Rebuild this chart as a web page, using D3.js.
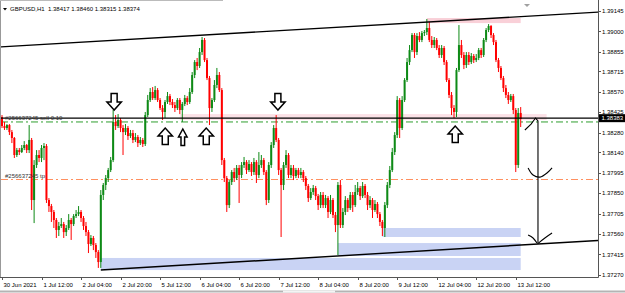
<!DOCTYPE html>
<html lang="en">
<head>
<meta charset="UTF-8">
<title>GBPUSD,H1</title>
<script src="https://cdn.jsdelivr.net/npm/d3@7"></script>
<style>
  body { margin: 0; background: #fff; }
  svg { display: block; font-family: "Liberation Sans", Arial, sans-serif; }
</style>
</head>
<body>
<svg id="chart" width="625" height="293"></svg>
<script>

// H1 candles, bar 0 = 30 Jun 2021 20:00
var open = [
  1.38391, 1.38327, 1.38313, 1.38334, 1.38284, 1.38242, 1.38121, 1.38156, 1.38142, 1.38171,
  1.38192, 1.38156, 1.38228, 1.37801, 1.38050, 1.38121, 1.38100, 1.38171, 1.38185, 1.37801,
  1.37758, 1.37716, 1.37659, 1.37588, 1.37616, 1.37630, 1.37573, 1.37602, 1.37659, 1.37630,
  1.37687, 1.37701, 1.37716, 1.37673, 1.37616, 1.37573, 1.37488, 1.37531, 1.37481, 1.37431,
  1.37360, 1.37837, 1.37908, 1.37957, 1.38014, 1.38085, 1.38356, 1.38327, 1.38370, 1.38313,
  1.38284, 1.38313, 1.38256, 1.38277, 1.38228, 1.38249, 1.38206, 1.38228, 1.38199, 1.38405,
  1.38512, 1.38569, 1.38526, 1.38583, 1.38512, 1.38455, 1.38427, 1.38498, 1.38540, 1.38498,
  1.38476, 1.38455, 1.38512, 1.38441, 1.38484, 1.38526, 1.38498, 1.38569, 1.38690, 1.38782,
  1.38754, 1.38853, 1.38939, 1.38796, 1.38668, 1.38455, 1.38512, 1.38619, 1.38690, 1.38583,
  1.38085, 1.37957, 1.37765, 1.37929, 1.38000, 1.37957, 1.38029, 1.37979, 1.38050, 1.38071,
  1.38014, 1.38057, 1.38000, 1.38071, 1.37979, 1.38050, 1.38085, 1.38000, 1.37801, 1.38050,
  1.38192, 1.38313, 1.38228, 1.38014, 1.37908, 1.38050, 1.38121, 1.37979, 1.38029, 1.37972,
  1.38014, 1.37979, 1.38000, 1.37957, 1.37901, 1.37815, 1.37858, 1.37886, 1.37829, 1.37765,
  1.37837, 1.37765, 1.37815, 1.37716, 1.37801, 1.37694, 1.37623, 1.37908, 1.37623, 1.37716,
  1.37801, 1.37744, 1.37837, 1.37765, 1.37858, 1.37886, 1.37829, 1.37901, 1.37837, 1.37765,
  1.37801, 1.37730, 1.37773, 1.37701, 1.37645, 1.37602, 1.37765, 1.37908, 1.38014, 1.38142,
  1.38263, 1.38512, 1.38313, 1.38512, 1.38654, 1.38782, 1.38867, 1.38974, 1.38853, 1.38967,
  1.38939, 1.38988, 1.38995, 1.39024, 1.38939, 1.38903, 1.38939, 1.38882, 1.38832, 1.38882,
  1.38782, 1.38654, 1.38548, 1.38455, 1.38427, 1.38725, 1.38903, 1.38832, 1.38761, 1.38832,
  1.38782, 1.38825, 1.38796, 1.38811, 1.38867, 1.38832, 1.38939, 1.39010, 1.39038, 1.38974,
  1.38924, 1.38796, 1.38740, 1.38668, 1.38597, 1.38548, 1.38512, 1.38540, 1.38441, 1.38050, 1.38420
];
var high = [
  1.38405, 1.38356, 1.38341, 1.38341, 1.38299, 1.38249, 1.38171, 1.38171, 1.38192, 1.38220,
  1.38199, 1.38334, 1.38242, 1.38085, 1.38156, 1.38156, 1.38192, 1.38206, 1.38199, 1.37815,
  1.37773, 1.37730, 1.37673, 1.37645, 1.37673, 1.37645, 1.37623, 1.37701, 1.37673, 1.37701,
  1.37730, 1.37758, 1.37730, 1.37687, 1.37645, 1.37588, 1.37552, 1.37545, 1.37495, 1.37445,
  1.37872, 1.37922, 1.37979, 1.38029, 1.38107, 1.38441, 1.38405, 1.38412, 1.38384, 1.38334,
  1.38341, 1.38327, 1.38299, 1.38299, 1.38277, 1.38263, 1.38249, 1.38242, 1.38427, 1.38548,
  1.38597, 1.38604, 1.38612, 1.38597, 1.38526, 1.38476, 1.38512, 1.38569, 1.38555, 1.38519,
  1.38498, 1.38526, 1.38526, 1.38498, 1.38548, 1.38540, 1.38597, 1.38711, 1.38796, 1.38811,
  1.38882, 1.38960, 1.38953, 1.38811, 1.38683, 1.38526, 1.38654, 1.38740, 1.38711, 1.38597,
  1.38100, 1.37972, 1.37943, 1.38014, 1.38029, 1.38050, 1.38050, 1.38071, 1.38107, 1.38085,
  1.38085, 1.38071, 1.38100, 1.38085, 1.38142, 1.38121, 1.38100, 1.38014, 1.38071, 1.38213,
  1.38334, 1.38405, 1.38242, 1.38029, 1.38071, 1.38156, 1.38135, 1.38050, 1.38050, 1.38029,
  1.38029, 1.38029, 1.38014, 1.37972, 1.37915, 1.37886, 1.37908, 1.37901, 1.37844, 1.37858,
  1.37858, 1.37837, 1.37829, 1.37837, 1.37815, 1.37716, 1.37929, 1.37943, 1.37744, 1.37829,
  1.37815, 1.37858, 1.37858, 1.37908, 1.37929, 1.37901, 1.37929, 1.37915, 1.37858, 1.37829,
  1.37815, 1.37801, 1.37787, 1.37716, 1.37659, 1.37787, 1.37929, 1.38043, 1.38171, 1.38284,
  1.38540, 1.38526, 1.38540, 1.38668, 1.38811, 1.38903, 1.38988, 1.38988, 1.38988, 1.38995,
  1.39003, 1.39010, 1.39088, 1.39067, 1.38967, 1.38960, 1.38953, 1.38903, 1.38903, 1.38896,
  1.38796, 1.38668, 1.38569, 1.38476, 1.38740, 1.39045, 1.38939, 1.38853, 1.38853, 1.38853,
  1.38846, 1.38839, 1.38839, 1.38882, 1.38882, 1.38953, 1.39024, 1.39052, 1.39045, 1.38988,
  1.38939, 1.38811, 1.38754, 1.38683, 1.38619, 1.38569, 1.38555, 1.38555, 1.38455, 1.38455, 1.38462
];
var low = [
  1.38313, 1.38299, 1.38299, 1.38263, 1.38206, 1.38100, 1.38107, 1.38121, 1.38135, 1.38156,
  1.38135, 1.38135, 1.37730, 1.37637, 1.38029, 1.38071, 1.38071, 1.38085, 1.37780, 1.37716,
  1.37645, 1.37602, 1.37531, 1.37545, 1.37602, 1.37531, 1.37545, 1.37588, 1.37517, 1.37616,
  1.37673, 1.37687, 1.37645, 1.37588, 1.37545, 1.37424, 1.37474, 1.37445, 1.37389, 1.37318,
  1.37318, 1.37801, 1.37872, 1.37929, 1.38000, 1.38071, 1.38299, 1.38313, 1.38284, 1.38121,
  1.38263, 1.38228, 1.38242, 1.38206, 1.38213, 1.38178, 1.38192, 1.38178, 1.38185, 1.38391,
  1.38498, 1.38512, 1.38512, 1.38498, 1.38441, 1.38370, 1.38384, 1.38484, 1.38476, 1.38455,
  1.38427, 1.38441, 1.38412, 1.38356, 1.38469, 1.38476, 1.38484, 1.38555, 1.38668, 1.38725,
  1.38740, 1.38832, 1.38782, 1.38654, 1.38334, 1.38427, 1.38498, 1.38597, 1.38569, 1.38050,
  1.37929, 1.37716, 1.37744, 1.37908, 1.37929, 1.37943, 1.37780, 1.37957, 1.38029, 1.37986,
  1.38000, 1.37972, 1.37979, 1.37922, 1.37957, 1.38029, 1.37979, 1.37765, 1.37780, 1.38029,
  1.38171, 1.38213, 1.37979, 1.37538, 1.37872, 1.38029, 1.37957, 1.37957, 1.37943, 1.37957,
  1.37957, 1.37957, 1.37929, 1.37872, 1.37787, 1.37801, 1.37837, 1.37801, 1.37730, 1.37744,
  1.37744, 1.37744, 1.37673, 1.37701, 1.37673, 1.37573, 1.37410, 1.37602, 1.37602, 1.37694,
  1.37716, 1.37730, 1.37716, 1.37751, 1.37837, 1.37801, 1.37815, 1.37815, 1.37730, 1.37744,
  1.37673, 1.37716, 1.37673, 1.37616, 1.37545, 1.37538, 1.37744, 1.37886, 1.38000, 1.38121,
  1.38242, 1.38242, 1.38299, 1.38498, 1.38640, 1.38761, 1.38853, 1.38811, 1.38832, 1.38924,
  1.38924, 1.38967, 1.38974, 1.38924, 1.38882, 1.38882, 1.38867, 1.38811, 1.38811, 1.38761,
  1.38640, 1.38526, 1.38405, 1.38384, 1.38391, 1.38711, 1.38811, 1.38732, 1.38740, 1.38761,
  1.38768, 1.38775, 1.38782, 1.38796, 1.38811, 1.38818, 1.38924, 1.38995, 1.38953, 1.38903,
  1.38782, 1.38711, 1.38654, 1.38569, 1.38526, 1.38484, 1.38498, 1.38412, 1.38000, 1.38029, 1.38320
];
var close = [
  1.38327, 1.38313, 1.38334, 1.38284, 1.38242, 1.38121, 1.38156, 1.38142, 1.38171, 1.38192,
  1.38156, 1.38228, 1.37801, 1.38050, 1.38121, 1.38100, 1.38171, 1.38185, 1.37801, 1.37758,
  1.37716, 1.37659, 1.37588, 1.37616, 1.37630, 1.37573, 1.37602, 1.37659, 1.37630, 1.37687,
  1.37701, 1.37716, 1.37673, 1.37616, 1.37573, 1.37488, 1.37531, 1.37481, 1.37431, 1.37360,
  1.37837, 1.37908, 1.37957, 1.38014, 1.38085, 1.38356, 1.38327, 1.38370, 1.38313, 1.38284,
  1.38313, 1.38256, 1.38277, 1.38228, 1.38249, 1.38206, 1.38228, 1.38199, 1.38405, 1.38512,
  1.38569, 1.38526, 1.38583, 1.38512, 1.38455, 1.38427, 1.38498, 1.38540, 1.38498, 1.38476,
  1.38455, 1.38512, 1.38441, 1.38484, 1.38526, 1.38498, 1.38569, 1.38690, 1.38782, 1.38754,
  1.38853, 1.38939, 1.38796, 1.38668, 1.38455, 1.38512, 1.38619, 1.38690, 1.38583, 1.38085,
  1.37957, 1.37765, 1.37929, 1.38000, 1.37957, 1.38029, 1.37979, 1.38050, 1.38071, 1.38014,
  1.38057, 1.38000, 1.38071, 1.37979, 1.38050, 1.38085, 1.38000, 1.37801, 1.38050, 1.38192,
  1.38313, 1.38228, 1.38014, 1.37908, 1.38050, 1.38121, 1.37979, 1.38029, 1.37972, 1.38014,
  1.37979, 1.38000, 1.37957, 1.37901, 1.37815, 1.37858, 1.37886, 1.37829, 1.37765, 1.37837,
  1.37765, 1.37815, 1.37716, 1.37801, 1.37694, 1.37623, 1.37908, 1.37623, 1.37716, 1.37801,
  1.37744, 1.37837, 1.37765, 1.37858, 1.37886, 1.37829, 1.37901, 1.37837, 1.37765, 1.37801,
  1.37730, 1.37773, 1.37701, 1.37645, 1.37602, 1.37765, 1.37908, 1.38014, 1.38142, 1.38263,
  1.38512, 1.38313, 1.38512, 1.38654, 1.38782, 1.38867, 1.38974, 1.38853, 1.38967, 1.38939,
  1.38988, 1.38995, 1.39024, 1.38939, 1.38903, 1.38939, 1.38882, 1.38832, 1.38882, 1.38782,
  1.38654, 1.38548, 1.38455, 1.38427, 1.38725, 1.38903, 1.38832, 1.38761, 1.38832, 1.38782,
  1.38825, 1.38796, 1.38811, 1.38867, 1.38832, 1.38939, 1.39010, 1.39038, 1.38974, 1.38924,
  1.38796, 1.38740, 1.38668, 1.38597, 1.38548, 1.38512, 1.38540, 1.38441, 1.38050, 1.38420, 1.38377
];

var timeTickBars = [0, 16, 32, 48, 64, 80, 96, 112, 128, 144, 160, 176, 192, 208];
var timeLabels = ["30 Jun 2021", "1 Jul 12:00", "2 Jul 04:00", "2 Jul 20:00", "5 Jul 12:00",
  "6 Jul 04:00", "6 Jul 20:00", "7 Jul 12:00", "8 Jul 04:00", "8 Jul 20:00", "9 Jul 12:00",
  "12 Jul 04:00", "12 Jul 20:00", "13 Jul 12:00"];
var priceTicks = [1.39145, 1.39000, 1.38855, 1.38715, 1.38570, 1.38425, 1.38280,
  1.38140, 1.37995, 1.37850, 1.37705, 1.37560, 1.37415, 1.37270];

var header = "GBPUSD,H1  1.38417 1.38460 1.38315 1.38374";
var bidPrice = 1.38383;
var orderPrice = 1.38356, orderText = "#256637245 sell 0.10";
var tpPrice = 1.37947, tpText = "#256637245 tp";

// zones drawn on the chart [bar from, bar to, price top, price bottom]
var blueZones = [[40, 210, 1.37389, 1.37303], [136, 210, 1.37495, 1.37403], [154, 210, 1.37602, 1.37538]];
var pinkZones = [[172, 210, 1.39095, 1.39059], [72, 220.5, 1.38412, 1.38370]];
// trendlines [bar, price] anchors
var upperTrend = [[81, 1.38973], [172, 1.39066]];
var lowerTrend = [[40, 1.37303], [217, 1.37488]];
// arrow marks: bar, tip price, direction, wide
var marks = [
  [45.4, 1.38441, "down", true], [66.1, 1.38313, "up", true], [73.2, 1.38306, "up", false],
  [82.7, 1.38313, "up", true], [111.7, 1.38441, "down", true], [183.5, 1.38327, "up", true]
];
// hand drawn projection
var sketch = [
  [[211.7, 1.38299], [214.2, 1.38341], [216.0, 1.38384], [217.0, 1.38363], [217.0, 1.37488]],
  [[213.0, 1.38029], [215.0, 1.37979], [217.8, 1.37964], [221.1, 1.38000], [222.7, 1.38029]],
  [[213.0, 1.37552], [215.0, 1.37531], [216.6, 1.37495]],
  [[217.2, 1.37495], [219.8, 1.37531], [222.7, 1.37566]]
];

var svg = d3.select("#chart");
var plotLeft = 1, plotRight = 598, plotTop = 2, plotBottom = 277;

var x = d3.scaleLinear().domain([0, 241.3]).range([2, 598]);
var y = d3.scaleLinear().domain([1.37270, 1.39145]).range([274.7, 11]);

svg.append("rect").attr("width", 625).attr("height", 293).attr("fill", "#fff");

svg.append("clipPath").attr("id", "plot")
  .append("rect").attr("x", plotLeft).attr("y", plotTop)
  .attr("width", plotRight - plotLeft).attr("height", plotBottom - plotTop);

var g = svg.append("g").attr("clip-path", "url(#plot)");

// zones
g.selectAll(".blue").data(blueZones).enter().append("rect")
  .attr("x", d => x(d[0])).attr("width", d => x(d[1]) - x(d[0]))
  .attr("y", d => y(d[2])).attr("height", d => y(d[3]) - y(d[2]))
  .attr("fill", "#c9d3f4");
g.selectAll(".pink").data(pinkZones).enter().append("rect")
  .attr("x", d => x(d[0])).attr("width", d => x(d[1]) - x(d[0]))
  .attr("y", d => y(d[2])).attr("height", d => y(d[3]) - y(d[2]))
  .attr("fill", (d, i) => i ? "#fbe1e6" : "#f9d0d8");

// order + tp lines
g.append("line").attr("x1", plotLeft).attr("x2", plotRight)
  .attr("y1", y(orderPrice)).attr("y2", y(orderPrice))
  .attr("stroke", "#2e9e2e").attr("stroke-width", 1).attr("stroke-dasharray", "7,3,2,3");
g.append("line").attr("x1", plotLeft).attr("x2", plotRight)
  .attr("y1", y(tpPrice)).attr("y2", y(tpPrice))
  .attr("stroke", "#ff9060").attr("stroke-width", 1.1).attr("stroke-dasharray", "7,3,2,3");

// candles
var bars = d3.range(close.length);
var cg = g.append("g");
bars.forEach(function (i) {
  var up = close[i] >= open[i];
  var col = up ? "#0e8a16" : "#ff0000";
  var cx = x(i);
  cg.append("line").attr("x1", cx).attr("x2", cx)
    .attr("y1", y(high[i])).attr("y2", y(low[i]))
    .attr("stroke", col).attr("stroke-width", 1);
  var top = y(Math.max(open[i], close[i])), bot = y(Math.min(open[i], close[i]));
  cg.append("rect").attr("x", cx - 1).attr("width", 2)
    .attr("y", top).attr("height", Math.max(0.8, bot - top))
    .attr("fill", col);
});

// bid line
g.append("line").attr("x1", plotLeft).attr("x2", plotRight)
  .attr("y1", y(bidPrice)).attr("y2", y(bidPrice))
  .attr("stroke", "#000").attr("stroke-width", 1.1);

// trendlines
function trend(a, from, to) {
  var slope = (a[1][1] - a[0][1]) / (a[1][0] - a[0][0]);
  var p = b => a[0][1] + slope * (b - a[0][0]);
  g.append("line").attr("x1", x(from)).attr("y1", y(p(from)))
    .attr("x2", x(to)).attr("y2", y(p(to)))
    .attr("stroke", "#000").attr("stroke-width", 1.4);
}
trend(upperTrend, -2, 242);
trend(lowerTrend, lowerTrend[0][0], 242);

// arrows
marks.forEach(function (m) {
  var tx = x(m[0]), ty = y(m[1]);
  var s = m[2] === "down" ? -1 : 1;
  var hw = m[3] ? 7.2 : 4.3, sw = m[3] ? 3 : 1.8, hh = 8, th = 16.5;
  var pts = [[tx, ty], [tx - hw, ty + s * hh], [tx - sw, ty + s * hh], [tx - sw, ty + s * th],
    [tx + sw, ty + s * th], [tx + sw, ty + s * hh], [tx + hw, ty + s * hh]];
  g.append("path").attr("d", "M" + pts.join("L") + "Z")
    .attr("fill", "#fff").attr("stroke", "#000").attr("stroke-width", 1.5)
    .attr("stroke-linejoin", "miter");
});

// sketch
var sk = d3.line().x(d => x(d[0])).y(d => y(d[1])).curve(d3.curveCatmullRom);
sketch.forEach(function (s, k) {
  g.append("path").attr("d", k === 0 ? d3.line().x(d => x(d[0])).y(d => y(d[1]))(s) : sk(s))
    .attr("fill", "none").attr("stroke", "#000").attr("stroke-width", 1.1);
});

// order labels
var lab = svg.append("g").attr("font-size", 6).attr("fill", "#333");
lab.append("text").attr("x", 5).attr("y", y(orderPrice) - 2).text(orderText);
lab.append("text").attr("x", 5).attr("y", y(tpPrice) - 1.5).text(tpText);

// header
svg.append("path").attr("d", "M3,8L7,8L5,10.5Z").attr("fill", "#000");
svg.append("text").attr("x", 10).attr("y", 11).attr("font-size", 6).attr("fill", "#000")
  .attr("xml:space", "preserve").style("white-space", "pre").text(header);
// chart shift marker
svg.append("path").attr("d", "M524,4L530,4L527,7Z").attr("fill", "#a0a0a0");

// frame
svg.append("line").attr("x1", 0.5).attr("x2", 0.5).attr("y1", 0).attr("y2", plotBottom)
  .attr("stroke", "#999");
svg.append("line").attr("x1", 0).attr("x2", 223).attr("y1", 0.5).attr("y2", 0.5).attr("stroke", "#bbb");
svg.append("line").attr("x1", plotRight + 0.5).attr("x2", plotRight + 0.5).attr("y1", 0).attr("y2", plotBottom + 0.5)
  .attr("stroke", "#555");
svg.append("line").attr("x1", 0).attr("x2", plotRight + 0.5).attr("y1", plotBottom + 0.5).attr("y2", plotBottom + 0.5)
  .attr("stroke", "#555");

// price axis
var pa = svg.append("g").attr("font-size", 6).attr("fill", "#000");
priceTicks.forEach(function (p) {
  pa.append("line").attr("x1", plotRight).attr("x2", plotRight + 3)
    .attr("y1", Math.round(y(p)) + 0.5).attr("y2", Math.round(y(p)) + 0.5).attr("stroke", "#555");
  pa.append("text").attr("x", 602).attr("y", y(p) + 2.2).text(p.toFixed(5));
});
var by = y(bidPrice);
svg.append("rect").attr("x", plotRight + 1).attr("y", by - 4).attr("width", 26).attr("height", 8).attr("fill", "#000");
svg.append("text").attr("x", 601.5).attr("y", by + 2.2).attr("font-size", 6).attr("fill", "#fff")
  .text(bidPrice.toFixed(5));

// time axis
var ta = svg.append("g").attr("font-size", 6).attr("fill", "#000");
timeTickBars.forEach(function (b, k) {
  var tx = Math.round(x(b)) + 0.5;
  ta.append("line").attr("x1", tx).attr("x2", tx).attr("y1", plotBottom).attr("y2", plotBottom + 3)
    .attr("stroke", "#555");
  ta.append("text").attr("x", tx + 1).attr("y", 286.5).text(timeLabels[k]);
});

// scroll bar strip
svg.append("line").attr("x1", 0).attr("x2", 625).attr("y1", 291.5).attr("y2", 291.5).attr("stroke", "#b4b4b4").attr("stroke-width", 2);
svg.append("line").attr("x1", 283).attr("x2", 335).attr("y1", 291.5).attr("y2", 291.5).attr("stroke", "#f4f4f4").attr("stroke-width", 2);

</script>
</body>
</html>
